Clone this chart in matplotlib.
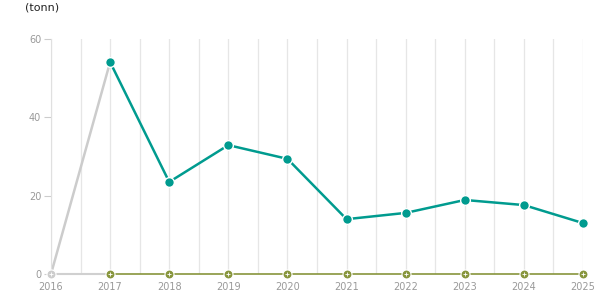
import numpy as np
import matplotlib.pyplot as plt

years = [2016, 2017, 2018, 2019, 2020, 2021, 2022, 2023, 2024, 2025]
gray_years = [2016, 2017]
gray_values = [0, 54.1]
teal_years = [2017, 2018, 2019, 2020, 2021, 2022, 2023, 2024, 2025]
teal_values = [54.1, 23.5, 32.9, 29.4, 14.0, 15.6, 18.9, 17.6, 13.0]
zero_years = [2017, 2018, 2019, 2020, 2021, 2022, 2023, 2024, 2025]
zero_values = [0, 0, 0, 0, 0, 0, 0, 0, 0]
yticks = [0, 20, 40, 60]

fig = plt.figure(figsize=(6.15, 3.05), dpi=100)
ax = fig.add_axes([51 / 615, 31 / 305, 532 / 615, 235 / 305])

ax.set_xlim(2016, 2025)
ax.set_ylim(0, 60)

# vertical grid (major + minor at half years)
ax.set_xticks(years)
ax.set_xticks(np.arange(2016.5, 2025, 1), minor=True)
ax.grid(axis="x", which="both", color="#e6e6e6", linewidth=0.9)
ax.set_axisbelow(True)

# gray baseline segment and gray spike
ax.plot([2016, 2017], [0, 0], color="#d0d0d0", linewidth=1.5, zorder=2, clip_on=False)
ax.plot(gray_years, gray_values, color="#cccccc", linewidth=1.8, zorder=2, clip_on=False)
ax.plot([2016], [0], "o", color="#cccccc", markersize=6.5, markeredgecolor="white",
        markeredgewidth=0.8, zorder=4, clip_on=False)
ax.plot([2016], [0], "+", color="white", markersize=3.5, markeredgewidth=0.6,
        zorder=5, clip_on=False)

# olive zero series
ax.plot(zero_years, zero_values, color="#87953c", linewidth=1.2, zorder=3, clip_on=False)
ax.plot(zero_years, zero_values, "o", color="#87953c", markersize=6.5,
        markeredgecolor="white", markeredgewidth=0.8, zorder=4, clip_on=False)
ax.plot(zero_years, zero_values, "+", color="white", markersize=3.5, markeredgewidth=0.6,
        zorder=5, clip_on=False)

# teal series
ax.plot(teal_years, teal_values, color="#009b8f", linewidth=1.8, zorder=5, clip_on=False)
ax.plot(teal_years, teal_values, "o", color="#009b8f", markersize=7,
        markeredgecolor="white", markeredgewidth=1, zorder=6, clip_on=False)

for s in ["top", "right", "bottom"]:
    ax.spines[s].set_visible(False)
ax.spines["left"].set_color("#e0e0e0")

ax.set_yticks(yticks)
ax.tick_params(axis="y", colors="#999999", labelsize=7, length=5, color="#cccccc", pad=2)
ax.tick_params(axis="x", which="both", length=0, labelsize=7, colors="#999999", pad=6)

fig.text(25 / 615, 1 - 8 / 305, "(tonn)", fontsize=8, color="#222222", va="center", ha="left")

fig.savefig("out.png", dpi=100)
